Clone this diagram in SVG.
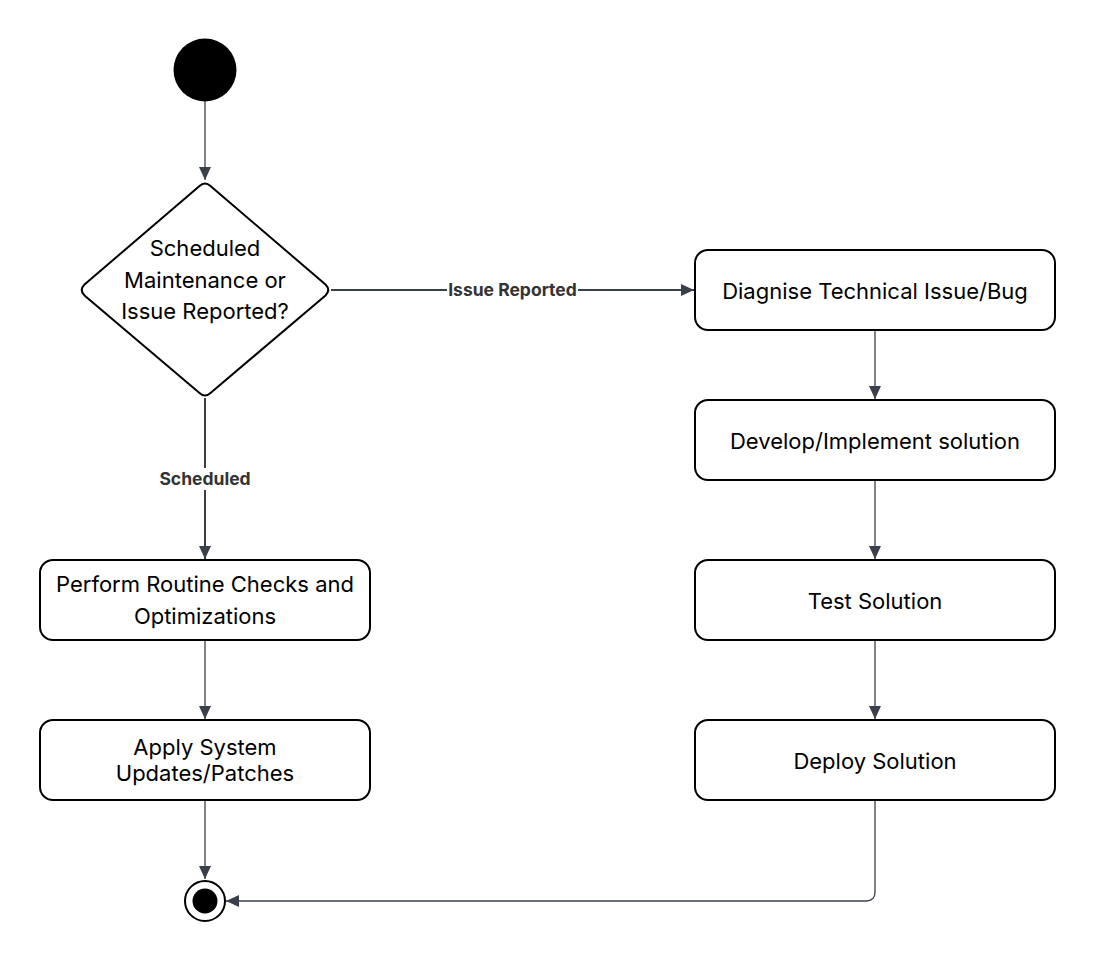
<svg xmlns="http://www.w3.org/2000/svg" width="1095" height="960" viewBox="0 0 1095 960">
<style>
.box{fill:#fff;stroke:#000;stroke-width:2}
.t{font-family:Inter,"Liberation Sans",sans-serif;font-size:22px;fill:#000;text-anchor:middle}
.lbl{font-family:Inter,"Liberation Sans",sans-serif;font-size:17.5px;font-weight:bold;fill:#333;text-anchor:middle}
.e{fill:none;stroke:#3a3f4a;stroke-width:1.3}
.e2{fill:none;stroke:#3a3f4a;stroke-width:2}
</style>
<defs>
<marker id="arr" markerUnits="userSpaceOnUse" markerWidth="14" markerHeight="12" refX="13" refY="6" orient="auto">
<path d="M0,0 L13,6 L0,12 Z" fill="#3a3f4a"/>
</marker>
</defs>
<rect width="1095" height="960" fill="#fff"/>
<g id="connectors">
<path class="e" d="M205,101 V180" marker-end="url(#arr)"/>
<path class="e2" d="M331,290 H694" marker-end="url(#arr)"/>
<path class="e2" d="M205,398 V559" marker-end="url(#arr)"/>
<path class="e" d="M205,640 V719" marker-end="url(#arr)"/>
<path class="e" d="M205,800 V879" marker-end="url(#arr)"/>
<path class="e" d="M875,330 V399" marker-end="url(#arr)"/>
<path class="e" d="M875,480 V559" marker-end="url(#arr)"/>
<path class="e" d="M875,640 V719" marker-end="url(#arr)"/>
<path class="e" d="M875,800 V892 Q875,901 866,901 H226" marker-end="url(#arr)"/>
<rect x="447" y="280" width="131" height="20" fill="#fff"/>
<text class="lbl" x="512.5" y="296">Issue Reported</text>
<rect x="159" y="468" width="92" height="22" fill="#fff"/>
<text class="lbl" x="205" y="485">Scheduled</text>
</g>
<g id="start"><circle cx="205" cy="70" r="31.5" fill="#000"/></g>
<g id="decision">
<path class="box" d="M199.5,186 Q205,181 210.5,186 L325.5,284.5 Q331,290 325.5,295.5 L210.5,393 Q205,398 199.5,393 L84.5,295.5 Q79,290 84.5,284.5 Z"/>
<text class="t" x="205" y="256">Scheduled</text>
<text class="t" x="205" y="288">Maintenance or</text>
<text class="t" x="205" y="319">Issue Reported?</text>
</g>
<g id="routine">
<rect class="box" x="40" y="560" width="330" height="80" rx="13"/>
<text class="t" x="205" y="592">Perform Routine Checks and</text>
<text class="t" x="205" y="624">Optimizations</text>
</g>
<g id="updates">
<rect class="box" x="40" y="720" width="330" height="80" rx="13"/>
<text class="t" x="205" y="755">Apply System</text>
<text class="t" x="205" y="781">Updates/Patches</text>
</g>
<g id="end">
<circle cx="205" cy="901" r="20" fill="#fff" stroke="#000" stroke-width="2"/>
<circle cx="205" cy="901" r="12.5" fill="#000"/>
</g>
<g id="diagnise">
<rect class="box" x="695" y="250" width="360" height="80" rx="13"/>
<text class="t" x="875" y="299">Diagnise Technical Issue/Bug</text>
</g>
<g id="develop">
<rect class="box" x="695" y="400" width="360" height="80" rx="13"/>
<text class="t" x="875" y="449">Develop/Implement solution</text>
</g>
<g id="test">
<rect class="box" x="695" y="560" width="360" height="80" rx="13"/>
<text class="t" x="875" y="609">Test Solution</text>
</g>
<g id="deploy">
<rect class="box" x="695" y="720" width="360" height="80" rx="13"/>
<text class="t" x="875" y="769">Deploy Solution</text>
</g>
</svg>
